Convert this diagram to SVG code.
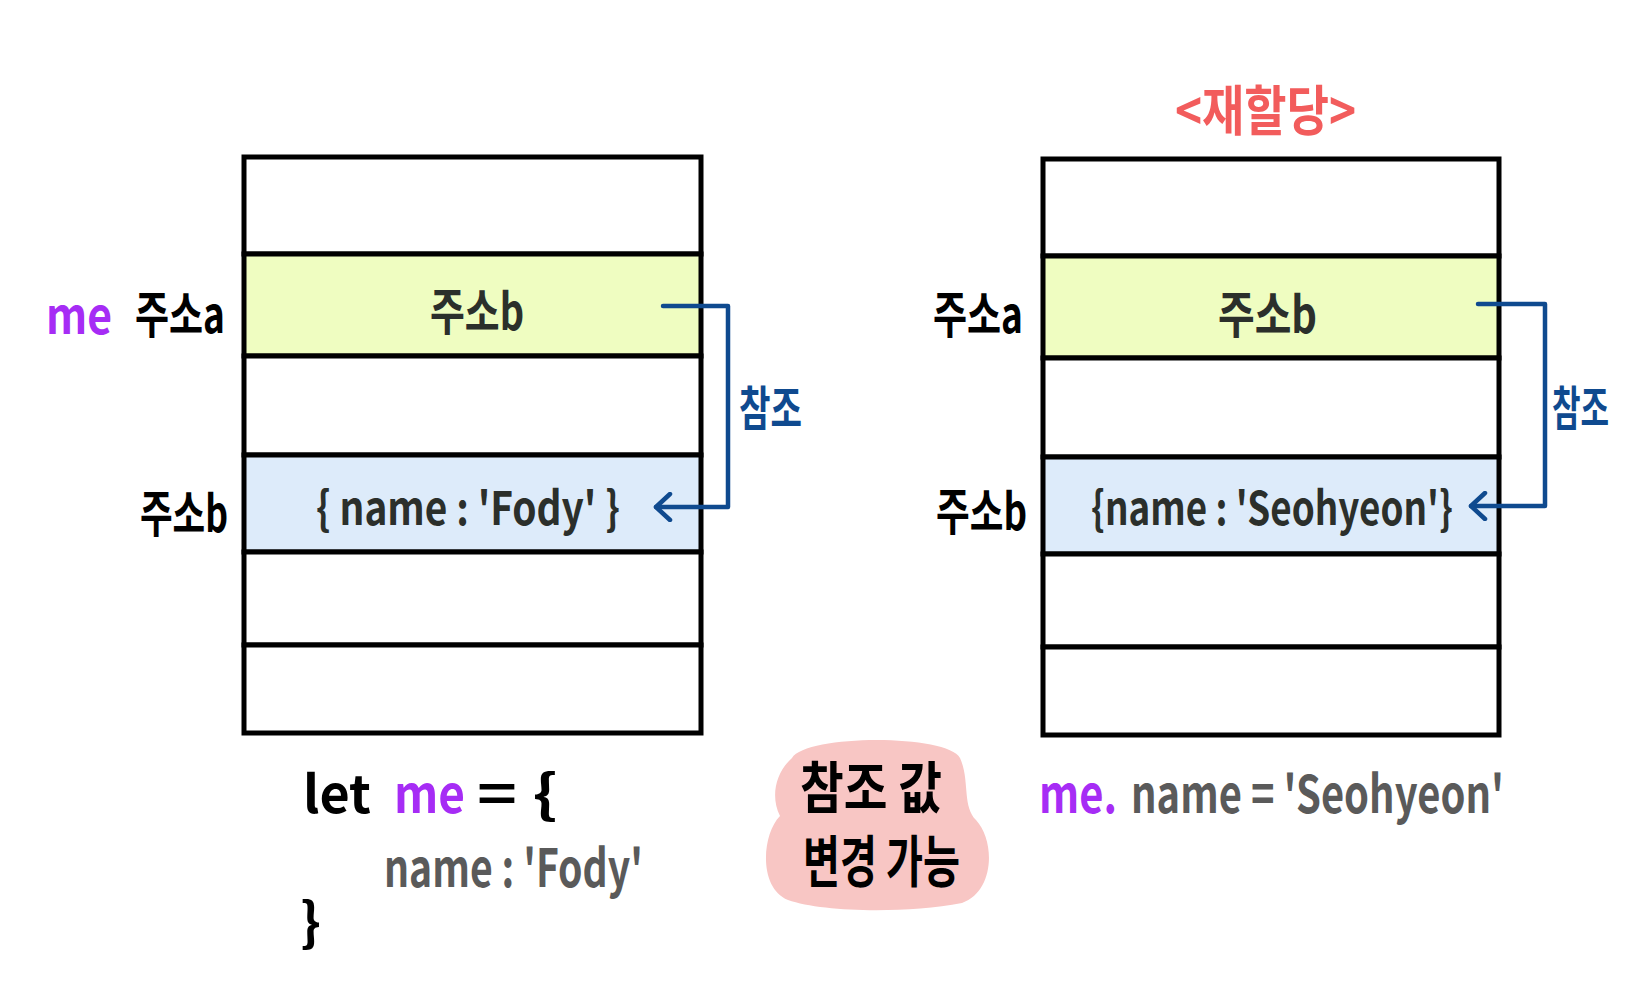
<svg xmlns="http://www.w3.org/2000/svg" width="1626" height="1000" viewBox="0 0 1626 1000">
<defs>
<style>
.t{font-family:"Noto Sans CJK KR","Noto Sans",sans-serif;font-weight:700;dominant-baseline:central}
.row{stroke:#000;stroke-width:5}
.k{fill:#000}
.d{fill:#2b2f2b}
.g{fill:#5a5a5a}
.p{fill:#a62cf5}
.b{fill:#0f4a8f}
.conn{fill:none;stroke:#0f4a8f;stroke-width:4.5;stroke-linecap:round;stroke-linejoin:round}
</style>
<marker id="arr" viewBox="0 0 20 30" refX="17" refY="15" markerWidth="20" markerHeight="30" markerUnits="userSpaceOnUse" orient="auto">
<path d="M3,2 L17,15 L3,28" fill="none" stroke="#0f4a8f" stroke-width="4.5" stroke-linecap="round" stroke-linejoin="round"/>
</marker>
</defs>
<rect width="1626" height="1000" fill="#fff"/>

<g id="left-memory">
<rect class="row" x="244" y="157" width="457" height="97" fill="#fff"/>
<rect class="row" x="244" y="254" width="457" height="102" fill="#effdc1"/>
<rect class="row" x="244" y="356" width="457" height="99" fill="#fff"/>
<rect class="row" x="244" y="455" width="457" height="97" fill="#ddebfa"/>
<rect class="row" x="244" y="552" width="457" height="93" fill="#fff"/>
<rect class="row" x="244" y="645" width="457" height="88" fill="#fff"/>
<text class="t d" x="430" y="308" font-size="50" textLength="94" lengthAdjust="spacingAndGlyphs">주소b</text>
<text class="t d" x="316" y="505" font-size="46" textLength="304" lengthAdjust="spacingAndGlyphs">{ name : 'Fody' }</text>
</g>

<g id="left-labels">
<text class="t p" x="46" y="312" font-size="50" textLength="66" lengthAdjust="spacingAndGlyphs">me</text>
<text class="t k" x="135" y="311" font-size="50" textLength="90" lengthAdjust="spacingAndGlyphs">주소a</text>
<text class="t k" x="140" y="510" font-size="50" textLength="88" lengthAdjust="spacingAndGlyphs">주소b</text>
</g>

<g id="right-title">
<text class="t" x="1175" y="107" font-size="54" fill="#f25c5c" textLength="181" lengthAdjust="spacingAndGlyphs">&lt;재할당&gt;</text>
</g>

<g id="right-memory">
<rect class="row" x="1043" y="159" width="456" height="97" fill="#fff"/>
<rect class="row" x="1043" y="256" width="456" height="102" fill="#effdc1"/>
<rect class="row" x="1043" y="358" width="456" height="99" fill="#fff"/>
<rect class="row" x="1043" y="457" width="456" height="97" fill="#ddebfa"/>
<rect class="row" x="1043" y="554" width="456" height="93" fill="#fff"/>
<rect class="row" x="1043" y="647" width="456" height="88" fill="#fff"/>
<text class="t d" x="1218" y="311" font-size="50" textLength="99" lengthAdjust="spacingAndGlyphs">주소b</text>
<text class="t d" x="1091" y="505" font-size="46" textLength="362" lengthAdjust="spacingAndGlyphs">{name : 'Seohyeon'}</text>
</g>

<g id="right-labels">
<text class="t k" x="933" y="311" font-size="50" textLength="90" lengthAdjust="spacingAndGlyphs">주소a</text>
<text class="t k" x="936" y="508" font-size="50" textLength="91" lengthAdjust="spacingAndGlyphs">주소b</text>
</g>

<g id="connectors">
<path class="conn" d="M663,306 H728 V507 H656" marker-end="url(#arr)"/>
<text class="t b" x="739" y="405" font-size="48" textLength="63" lengthAdjust="spacingAndGlyphs">참조</text>
<path class="conn" d="M1478,304 H1545 V506 H1471" marker-end="url(#arr)"/>
<text class="t b" transform="translate(1552,404) scale(0.66,1)" x="0" y="0" font-size="47">참조</text>
</g>

<g id="left-code">
<text class="t k" x="303" y="790" font-size="52" textLength="68" lengthAdjust="spacingAndGlyphs">let</text>
<text class="t p" x="394" y="790" font-size="52" textLength="71" lengthAdjust="spacingAndGlyphs">me</text>
<text class="t k" x="477" y="790" font-size="52" textLength="81" lengthAdjust="spacingAndGlyphs">= {</text>
<text class="t g" x="384" y="864" font-size="52" textLength="259" lengthAdjust="spacingAndGlyphs">name : 'Fody'</text>
<text class="t k" x="300" y="918" font-size="52" textLength="21" lengthAdjust="spacingAndGlyphs">}</text>
</g>

<g id="note">
<path d="M792,758 C806,734 948,734 960,758 C970,780 962,806 976,820 C996,842 994,892 962,903 C904,914 822,912 788,900 C758,888 762,834 780,816 C770,796 776,772 792,758 Z" fill="#f8c6c4"/>
<text class="t k" x="800" y="783" font-size="56" textLength="142" lengthAdjust="spacingAndGlyphs">참조 값</text>
<text class="t k" x="803" y="857" font-size="56" textLength="157" lengthAdjust="spacingAndGlyphs">변경 가능</text>
</g>

<g id="right-code">
<text class="t p" x="1039" y="790" font-size="52" textLength="78" lengthAdjust="spacingAndGlyphs">me.</text>
<text class="t g" x="1131" y="790" font-size="52" textLength="373" lengthAdjust="spacingAndGlyphs">name = 'Seohyeon'</text>
</g>
</svg>
